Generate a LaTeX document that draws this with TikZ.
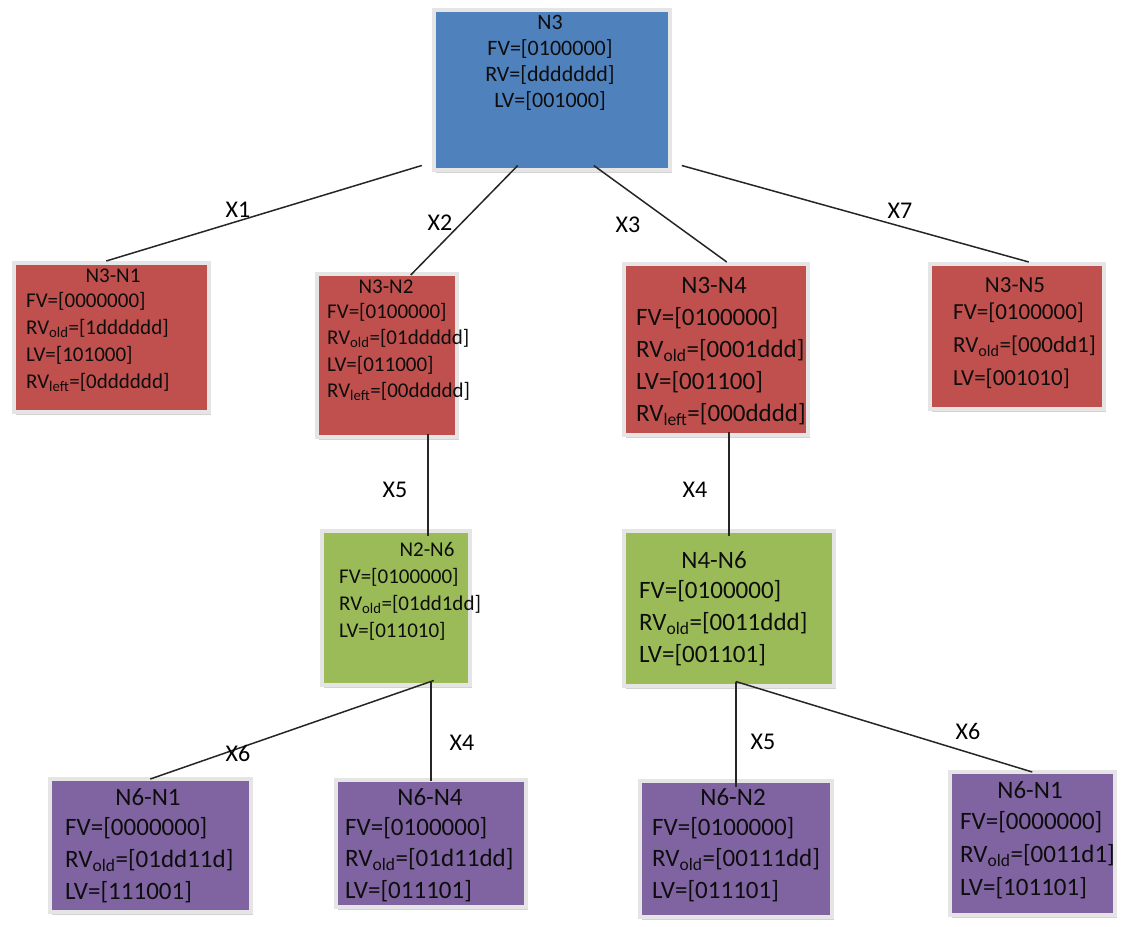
\documentclass[tikz,border=0pt]{standalone}
\usepackage{fontspec}
\setmainfont{Carlito}
\usepackage{tikz}
\usetikzlibrary{shadows}
\definecolor{rootblue}{HTML}{4F81BD}
\definecolor{linkred}{HTML}{C0504D}
\definecolor{hopgreen}{HTML}{9BBB59}
\definecolor{leafpurple}{HTML}{8064A2}
\newcommand{\fsz}[2]{\fontsize{#1}{#2}\selectfont}
\newcommand{\cellbox}[5]{\node[cell, fill=#2, minimum width=#4, minimum height=#5] (#1) at (#3) {};}

\begin{document}
\begin{tikzpicture}[x=1pt,y=-1pt,
    cell/.style={draw=white!90!black, line width=3.5pt, anchor=north west, inner sep=0pt,
      drop shadow={opacity=0.35, shadow xshift=2pt, shadow yshift=-3pt}},
    ttl/.style={inner sep=0pt, text=black!95},
    body/.style={inner sep=0pt, align=left, anchor=north west, text=black!95},
    xlbl/.style={inner sep=0pt, font=\fsz{24}{28}},
    link/.style={line width=1.5pt, draw=black!85}]
      \useasboundingbox (0,0) rectangle (1126,926);
      \cellbox{n3}{rootblue}{432,8}{236}{160}
      \cellbox{n3n1}{linkred}{12,261}{195}{149}
      \cellbox{n3n2}{linkred}{315,272}{140}{163}
      \cellbox{n3n4}{linkred}{622,262}{184}{171}
      \cellbox{n3n5}{linkred}{928,262}{174}{145}
      \cellbox{n2n6}{hopgreen}{320,529}{148}{154}
      \cellbox{n4n6}{hopgreen}{622,529}{210}{155}
      \cellbox{n6n1a}{leafpurple}{48,777}{201}{133}
      \cellbox{n6n4}{leafpurple}{334,778}{190}{127}
      \cellbox{n6n2}{leafpurple}{638,779}{192}{136}
      \cellbox{n6n1b}{leafpurple}{948,770}{165}{143}

      \node[ttl, align=center, anchor=north, font=\fsz{22}{26}] (n3-t) at (550,15)
        {N3\\FV=[0100000]\\RV=[ddddddd]\\LV=[001000]};

      \node[ttl, font=\fsz{21}{27}] (n3n1-t) at (113,276) {N3-N1};
      \node[body, font=\fsz{21}{27}] (n3n1-b) at (26,292)
        {FV=[0000000]\\RV\textsubscript{old}=[1dddddd]\\LV=[101000]\\RV\textsubscript{left}=[0dddddd]};
      \node[ttl, font=\fsz{21}{26.5}] (n3n2-t) at (386,287) {N3-N2};
      \node[body, font=\fsz{21}{26.5}] (n3n2-b) at (327,303)
        {FV=[0100000]\\RV\textsubscript{old}=[01ddddd]\\LV=[011000]\\RV\textsubscript{left}=[00ddddd]};
      \node[ttl, font=\fsz{25}{32}] (n3n4-t) at (714,285) {N3-N4};
      \node[body, font=\fsz{25}{32}] (n3n4-b) at (636,307)
        {FV=[0100000]\\RV\textsubscript{old}=[0001ddd]\\LV=[001100]\\RV\textsubscript{left}=[000dddd]};
      \node[ttl, font=\fsz{23}{33}] (n3n5-t) at (1015,285) {N3-N5};
      \node[body, font=\fsz{23}{33}] (n3n5-b) at (953,303)
        {FV=[0100000]\\RV\textsubscript{old}=[000dd1]\\LV=[001010]};

      \node[ttl, font=\fsz{21}{27}] (n2n6-t) at (427,549) {N2-N6};
      \node[body, font=\fsz{21}{27}] (n2n6-b) at (339,568)
        {FV=[0100000]\\RV\textsubscript{old}=[01dd1dd]\\LV=[011010]};
      \node[ttl, font=\fsz{25}{32}] (n4n6-t) at (714,560) {N4-N6};
      \node[body, font=\fsz{25}{32}] (n4n6-b) at (639,580)
        {FV=[0100000]\\RV\textsubscript{old}=[0011ddd]\\LV=[001101]};

      \node[ttl, font=\fsz{25}{32}] (n6n1a-t) at (148,797) {N6-N1};
      \node[body, font=\fsz{25}{32}] (n6n1a-b) at (65,817)
        {FV=[0000000]\\RV\textsubscript{old}=[01dd11d]\\LV=[111001]};
      \node[ttl, font=\fsz{25}{31.5}] (n6n4-t) at (430,797) {N6-N4};
      \node[body, font=\fsz{25}{31.5}] (n6n4-b) at (345,817)
        {FV=[0100000]\\RV\textsubscript{old}=[01d11dd]\\LV=[011101]};
      \node[ttl, font=\fsz{25}{31.5}] (n6n2-t) at (733,797) {N6-N2};
      \node[body, font=\fsz{25}{31.5}] (n6n2-b) at (652,817)
        {FV=[0100000]\\RV\textsubscript{old}=[00111dd]\\LV=[011101]};
      \node[ttl, font=\fsz{25}{33}] (n6n1b-t) at (1030,790) {N6-N1};
      \node[body, font=\fsz{25}{33}] (n6n1b-b) at (960,811)
        {FV=[0000000]\\RV\textsubscript{old}=[0011d1]\\LV=[101101]};

      \draw[link] ([xshift=-130,yshift=6]n3.south) -- ([xshift=-5]n3n1.north);
      \draw[link] ([xshift=-34,yshift=6]n3.south) -- ([xshift=24,yshift=-3]n3n2.north);
      \draw[link] ([xshift=42,yshift=6]n3.south) -- ([xshift=11]n3n4.north);
      \draw[link] ([xshift=130,yshift=6]n3.south) -- ([xshift=12]n3n5.north);
      \draw[link] ([xshift=41,yshift=5]n3n2.south) -- ([xshift=41,yshift=-7]n3n2.south |- n2n6.north);
      \draw[link] ([yshift=5]n3n4.south -| n4n6.north) -- ([yshift=-7]n4n6.north);
      \draw[link] ([xshift=38,yshift=6]n2n6.south) -- ([yshift=-2]n6n1a.north);
      \draw[link] ([yshift=6]n6n4.north |- n2n6.south) -- ([yshift=-3]n6n4.north);
      \draw[link] ([yshift=6]n6n2.north |- n4n6.south) -- ([yshift=-8]n6n2.north);
      \draw[link] ([yshift=6]n6n2.north |- n4n6.south) -- ([yshift=-2]n6n1b.north);

      \node[xlbl] (x1) at (238,210) {X1};
      \node[xlbl] (x2) at (440,223) {X2};
      \node[xlbl] (x3) at (628,225) {X3};
      \node[xlbl] (x7) at (900,211) {X7};
      \node[xlbl] (x5a) at (395,490) {X5};
      \node[xlbl] (x4a) at (695,490) {X4};
      \node[xlbl] (x6a) at (238,753) {X6};
      \node[xlbl] (x4b) at (462,743) {X4};
      \node[xlbl] (x5b) at (763,742) {X5};
      \node[xlbl] (x6b) at (968,731) {X6};
    \end{tikzpicture}
\end{document}
